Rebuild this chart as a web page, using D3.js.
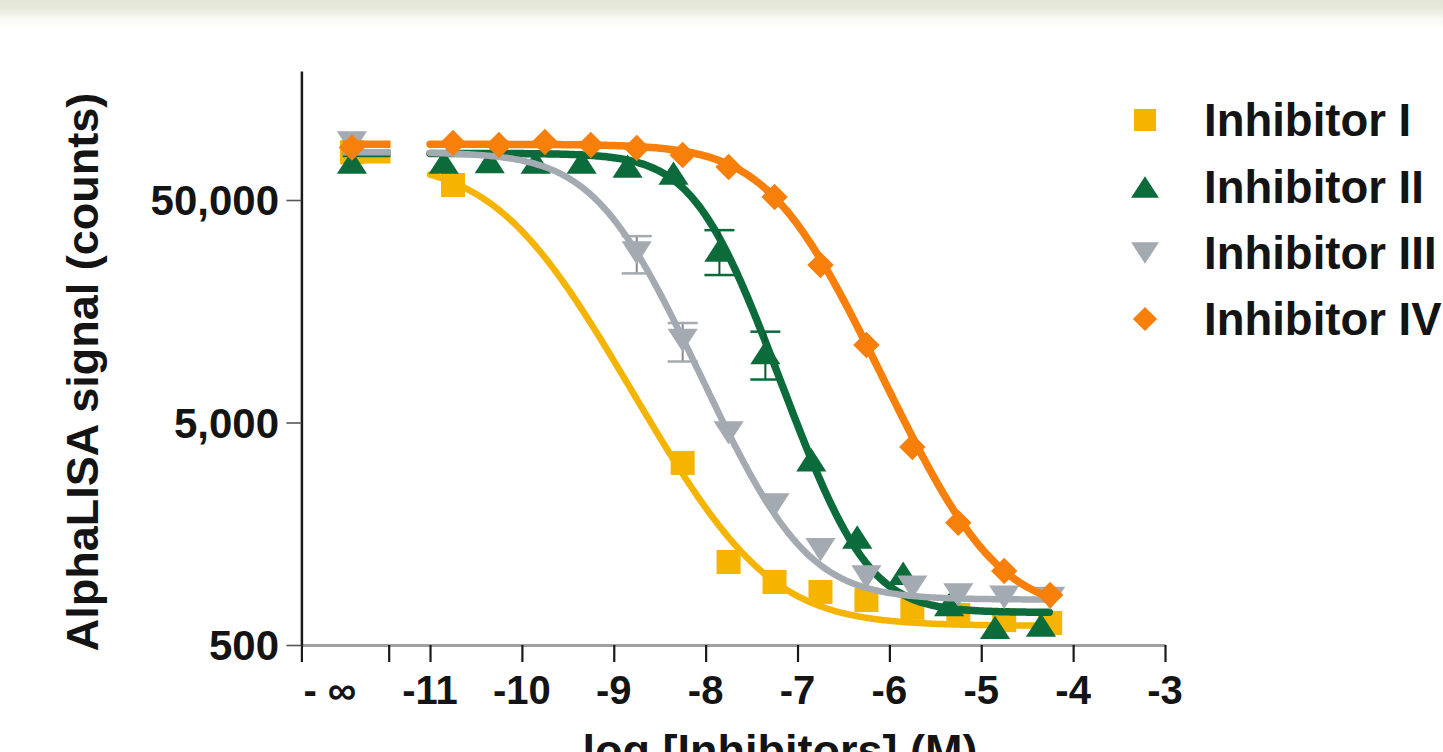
<!DOCTYPE html>
<html><head><meta charset="utf-8">
<script src="https://cdn.jsdelivr.net/npm/d3@7"></script>
<style>
html,body{margin:0;padding:0;background:#fff;overflow:hidden}
svg{display:block}
text{font-family:"Liberation Sans",Arial,Helvetica,sans-serif;font-weight:bold;fill:#141414}
</style></head><body>
<svg id="chart" width="1443" height="752"></svg>
<script>
// ---------- data ----------
const seriesNames = ["Inhibitor I", "Inhibitor II", "Inhibitor III", "Inhibitor IV"];
const seriesColors = ["#f4b400", "#0b6b3a", "#a4aab2", "#f77f0a"];
const seriesShapes = ["square", "triangleUp", "triangleDown", "diamond"];

// signal at zero inhibitor (plotted at "- ∞")
const infSignal = [82000, 74000, 90200, 86000];

const logConcI = [-10.75, -8.25, -7.75, -7.25, -6.75, -6.25, -5.75, -5.25, -4.75, -4.25];
const signalI  = [58400, 3290, 1180, 960, 865, 796, 734, 682, 647, 628];
const errI     = [0, 0, 0, 0, 0, 0, 0, 0, 0, 0];

const logConcII = [-10.85, -10.35, -9.85, -9.35, -8.85, -8.35, -7.85, -7.35, -6.85, -6.35, -5.85, -5.35, -4.85, -4.35];
const signalII  = [74000, 74500, 74000, 74000, 71000, 66000, 29800, 10300, 3400, 1530, 1050, 760, 600, 615];
const errII     = [0, 0, 0, 0, 0, 0, 6800, 2500, 0, 0, 0, 0, 0, 0];

const logConcIII = [-8.75, -8.25, -7.75, -7.25, -6.75, -6.25, -5.75, -5.25, -4.75, -4.25];
const signalIII  = [28900, 11700, 4490, 2130, 1340, 1010, 910, 840, 820, 810];
const errIII     = [5500, 2300, 0, 0, 0, 0, 0, 0, 0, 0];

const logConcIV = [-10.75, -10.25, -9.75, -9.25, -8.75, -8.25, -7.75, -7.25, -6.75, -6.25, -5.75, -5.25, -4.75, -4.25];
const signalIV  = [90200, 88300, 91100, 88300, 85700, 79600, 70400, 51600, 25500, 11150, 3880, 1770, 1075, 839];
const errIV     = [0, 0, 0, 0, 0, 0, 0, 0, 0, 0, 0, 0, 0, 0];

// fitted four-parameter logistic curves (parameters)
const fitTop     = [75500, 81000, 82000, 89000];
const fitBottom  = [610, 700, 800, 700];
const fitLogIC50 = [-10.05, -7.97, -9.01, -7.12];
const fitHill    = [0.83, 1.3, 1.05, 1.0];
const fitRange   = [-11, -4.25];

// axis ticks
const xTickValues = [-11, -10, -9, -8, -7, -6, -5, -4, -3];
const xTickLabels = ["-11", "-10", "-9", "-8", "-7", "-6", "-5", "-4", "-3"];
const infLabel = "- \u221E";
const yTickValues = [500, 5000, 50000];
const yTickLabels = ["500", "5,000", "50,000"];
const xTitle = "log [Inhibitors] (M)";
const yTitle = "AlphaLISA signal (counts)";

// ---------- layout ----------
const svg = d3.select("#chart");
// pseudo log positions for the "- ∞" segment of the axis
const axisStart = -12.4, breakPos = -11.45, infPos = -11.85, infLabelPos = -12.09;
const infLine = [-11.95, -11.43];

const x = d3.scaleLinear().domain([axisStart, -3]).range([301.4, 1165]);
const y = d3.scaleLog().domain([500, 190000]).range([645, 71]);

// top tint band
const defs = svg.append("defs");
const g0 = defs.append("linearGradient").attr("id", "band").attr("x1", 0).attr("y1", 0).attr("x2", 0).attr("y2", 1);
g0.append("stop").attr("offset", 0).attr("stop-color", "#e2e5d6");
g0.append("stop").attr("offset", 0.3).attr("stop-color", "#e8eadd");
g0.append("stop").attr("offset", 0.65).attr("stop-color", "#f9faf3");
g0.append("stop").attr("offset", 1).attr("stop-color", "#ffffff");
svg.append("rect").attr("x", 0).attr("y", 0).attr("width", 1443).attr("height", 30).attr("fill", "url(#band)");

// ---------- axes ----------
const xAxis = d3.axisBottom(x)
  .tickValues([axisStart, breakPos].concat(xTickValues))
  .tickSize(17).tickSizeOuter(0)
  .tickFormat(() => "");
const gx = svg.append("g").attr("transform", "translate(0,645)").call(xAxis);
gx.select(".domain").attr("stroke", "#a0a0a0").attr("stroke-width", 3);
gx.selectAll(".tick line").attr("stroke", "#1a1a1a").attr("stroke-width", 2.2);

svg.append("g").selectAll("text").data(xTickValues).join("text")
  .attr("x", d => x(d)).attr("y", 704)
  .attr("text-anchor", "middle").attr("font-size", 40)
  .text((d, i) => xTickLabels[i]);
svg.append("text").attr("x", x(infLabelPos)).attr("y", 704)
  .attr("text-anchor", "middle").attr("font-size", 40).text(infLabel);

const yAxis = d3.axisLeft(y).tickValues(yTickValues).tickSize(15).tickSizeOuter(0).tickFormat(() => "");
const gy = svg.append("g").attr("transform", `translate(${x(axisStart)},0)`).call(yAxis);
gy.select(".domain").attr("stroke", "#1a1a1a").attr("stroke-width", 2.5);
gy.selectAll(".tick line").attr("stroke", "#555").attr("stroke-width", 1.6);
svg.append("g").selectAll("text").data(yTickValues).join("text")
  .attr("x", 279).attr("y", d => y(d)).attr("dy", "0.36em")
  .attr("text-anchor", "end").attr("font-size", 42)
  .text((d, i) => yTickLabels[i]);

svg.append("text").attr("transform", "translate(98,372) rotate(-90)")
  .attr("text-anchor", "middle").attr("font-size", 45).text(yTitle);
svg.append("text").attr("x", 780).attr("y", 766)
  .attr("text-anchor", "middle").attr("font-size", 45).text(xTitle);

// ---------- marks ----------
function shapePath(shape, w) {
  const h = w / 2;
  if (shape === "square") return `M${-h},${-h}H${h}V${h}H${-h}Z`;
  if (shape === "triangleUp") { const a = w * 0.58, b = w * 0.45; return `M0,${-b}L${a},${b}L${-a},${b}Z`; }
  if (shape === "triangleDown") { const a = w * 0.58, b = w * 0.45; return `M0,${b}L${a},${-b}L${-a},${-b}Z`; }
  if (shape === "diamond") { const a = w * 0.55; return `M0,${-a}L${a},0L0,${a}L${-a},0Z`; }
}
const markerSize = [24, 26, 26, 24];

const allConc = [logConcI, logConcII, logConcIII, logConcIV];
const allSig = [signalI, signalII, signalIII, signalIV];
const allErr = [errI, errII, errIII, errIV];

const line = d3.line().x(d => x(d[0])).y(d => y(d[1])).curve(d3.curveLinear);
const fourPL = (s, lx) => fitBottom[s] + (fitTop[s] - fitBottom[s]) / (1 + Math.pow(10, (lx - fitLogIC50[s]) * fitHill[s]));
const curveWidth = [6.5, 7.5, 6.5, 7.5];

seriesNames.forEach((name, s) => {
  const g = svg.append("g");
  const col = seriesColors[s];
  // fitted curve
  const samples = d3.range(fitRange[0], fitRange[1] + 1e-9, 0.02).map(lx => [lx, fourPL(s, lx)]);
  g.append("path").attr("d", line(samples)).attr("fill", "none")
    .attr("stroke", col).attr("stroke-width", curveWidth[s]).attr("stroke-linejoin", "round").attr("stroke-linecap", "round");
  // flat curve on the "- ∞" segment
  g.append("path").attr("d", line(infLine.map(lx => [lx, fitTop[s]]))).attr("fill", "none")
    .attr("stroke", col).attr("stroke-width", curveWidth[s]);
  // error bars
  const pts = allConc[s].map((c, i) => ({c, v: allSig[s][i], e: allErr[s][i]}));
  const eb = g.append("g");
  pts.filter(p => p.e > 0).forEach(p => {
    const top = y(p.v + p.e), bot = y(p.v - p.e);
    eb.append("line").attr("x1", x(p.c)).attr("x2", x(p.c)).attr("y1", top).attr("y2", bot)
      .attr("stroke", d3.color(col).darker(0.6)).attr("stroke-width", 2);
    [top, bot].forEach(yy => eb.append("line").attr("x1", x(p.c) - 15).attr("x2", x(p.c) + 15)
      .attr("y1", yy).attr("y2", yy).attr("stroke", col).attr("stroke-width", 2.5));
  });
  // markers
  g.selectAll("path.pt").data(pts).join("path").attr("class", "pt")
    .attr("transform", d => `translate(${x(d.c)},${y(d.v)})`)
    .attr("d", shapePath(seriesShapes[s], markerSize[s])).attr("fill", col);
  g.append("path").attr("transform", `translate(${x(infPos)},${y(infSignal[s])})`)
    .attr("d", shapePath(seriesShapes[s], markerSize[s])).attr("fill", col);
});

// ---------- legend ----------
const legendRows = [120, 187, 253, 319];
const lg = svg.append("g");
seriesNames.forEach((name, s) => {
  lg.append("path").attr("transform", `translate(1145,${legendRows[s]})`)
    .attr("d", shapePath(seriesShapes[s], markerSize[s] - 2)).attr("fill", seriesColors[s]);
  lg.append("text").attr("x", 1204).attr("y", legendRows[s]).attr("dy", "0.36em")
    .attr("font-size", 45.5).text(name);
});
</script>
</body></html>
